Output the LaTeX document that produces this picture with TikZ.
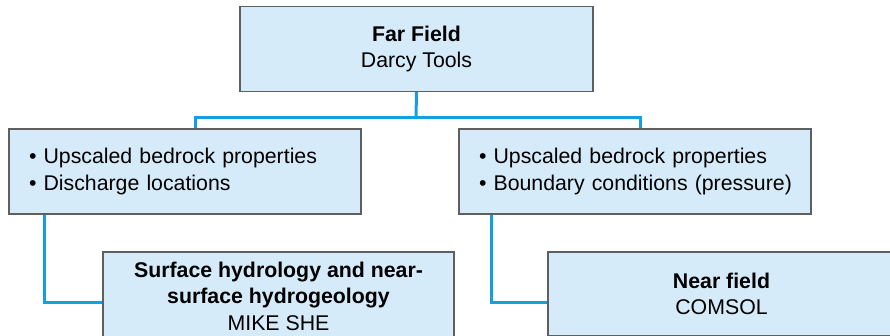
\documentclass[tikz,border=0pt]{standalone}
\usepackage{fontspec}
\setmainfont{Liberation Sans}
\definecolor{boxblue}{RGB}{213,235,250}
\definecolor{boxgray}{RGB}{95,95,95}
\definecolor{linkblue}{RGB}{22,158,224}
\begin{document}
\begin{tikzpicture}[
		x=1pt, y=-1pt,
		box/.style={draw=boxgray, fill=boxblue, line width=1.3pt, inner sep=0pt,
			font=\fontsize{21.3}{26.5}\selectfont},
		link/.style={draw=linkblue, line width=3pt},
	]
		\useasboundingbox (0,0) rectangle (890,336);
		\clip (0,0) rectangle (890,336);
		\node[box, minimum width=353pt, minimum height=85pt, align=center] (far) at (416.5,49)
			{\textbf{Far Field}\\Darcy Tools};
		\node[box, minimum width=352pt, minimum height=85pt, text width=312pt, align=left] (lup) at (185,171.5)
			{\textbullet\ Upscaled bedrock properties\\\textbullet\ Discharge locations};
		\node[box, minimum width=352pt, minimum height=85pt, text width=312pt, align=left] (rup) at (635,171.5)
			{\textbullet\ Upscaled bedrock properties\\\mbox{\textbullet\ Boundary conditions (pressure)}};
		\node[box, minimum width=351pt, minimum height=88pt, align=center] (surf) at (278.5,296)
			{\textbf{Surface hydrology and near-}\\\textbf{surface hydrogeology}\\MIKE SHE};
		\node[box, minimum width=347pt, minimum height=84pt, align=center] (near) at (721.5,294)
			{\textbf{Near field}\\COMSOL};
		\coordinate (bus) at (416,118);
		\draw[link] (far.south) -- (bus);
		\draw[link] ([xshift=10pt]lup.north) |- (bus) -| ([xshift=5pt]rup.north);
		\draw[link] ([xshift=36pt]lup.south west) |- ([yshift=-6pt]surf.west);
		\draw[link] ([xshift=33pt]rup.south west) |- ([yshift=-8pt]near.west);
	\end{tikzpicture}
\end{document}
